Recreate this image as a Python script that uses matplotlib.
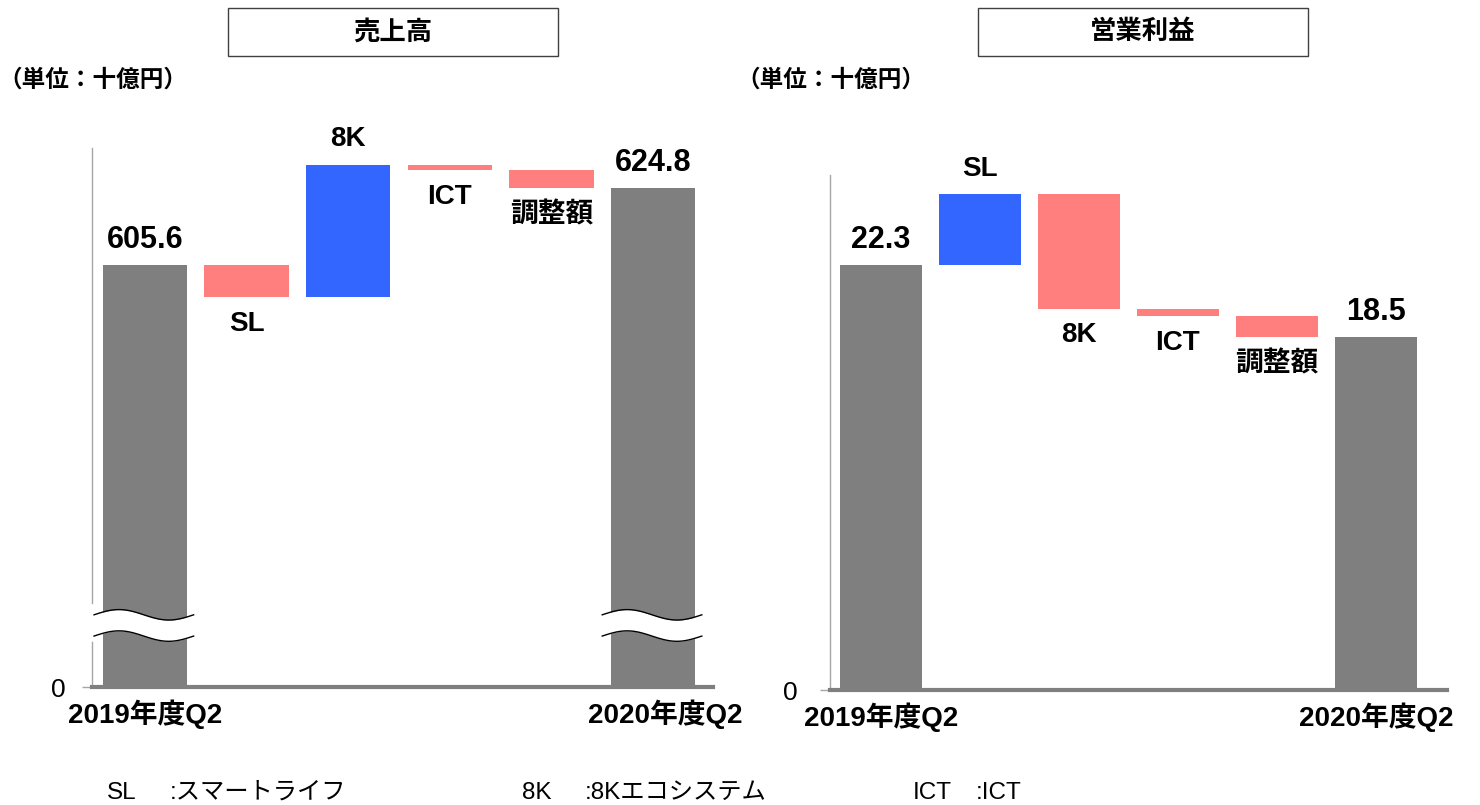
import numpy as np
import matplotlib.pyplot as plt
import matplotlib.transforms as mtransforms
from matplotlib.patches import Rectangle

plt.rcParams['font.family'] = ['Liberation Sans', 'Noto Sans CJK JP']

# data (単位: 十億円)
steps = ['SL', '8K', 'ICT', '調整額']
periods = ['2019年度Q2', '2020年度Q2']
sales_start = 605.6
sales_delta = [-8.0, 33.0, -1.2, -4.6]
sales_end = 624.8
op_start = 22.3
op_delta = [3.7, -6.0, -0.4, -1.1]
op_end = 18.5

GRAY = '#7f7f7f'
BLUE = '#3366ff'
PINK = '#ff7f7f'
AXIS = '#a6a6a6'

W, H = 1480, 805
fig = plt.figure(figsize=(W / 100, H / 100), dpi=100)


def px_axes(x0, x1, ytop, ybot):
    return fig.add_axes([x0 / W, 1 - ybot / H, (x1 - x0) / W, (ybot - ytop) / H])


def waterfall(ax, start, deltas, end, base, top, xlim):
    n = len(deltas)
    w = 0.83
    ax.bar(0, start - base, bottom=base, width=w, color=GRAY, zorder=2)
    ax.bar(n + 1, end - base, bottom=base, width=w, color=GRAY, zorder=2)
    level = start
    for i, d in enumerate(deltas):
        c = BLUE if d > 0 else PINK
        ax.bar(i + 1, d, bottom=level, width=w, color=c, zorder=2)
        new = level + d
        if d > 0:
            ax.annotate(steps[i], (i + 1, new), xytext=(0, 9), textcoords='offset points',
                        ha='center', va='bottom', fontsize=20, fontweight='bold')
        else:
            ax.annotate(steps[i], (i + 1, new), xytext=(0, -10), textcoords='offset points',
                        ha='center', va='top', fontsize=20, fontweight='bold')
        level = new
    for x, v in [(0, start), (n + 1, end)]:
        ax.annotate(f'{v:.1f}', (x, v), xytext=(0, 7), textcoords='offset points',
                    ha='center', va='bottom', fontsize=22, fontweight='bold')

    ax.set_xlim(*xlim)
    ax.set_ylim(base, top)
    ax.spines['top'].set_visible(False)
    ax.spines['right'].set_visible(False)
    ax.spines['bottom'].set_color(GRAY)
    ax.spines['bottom'].set_linewidth(3)
    ax.spines['left'].set_color(AXIS)
    ax.spines['left'].set_linewidth(1)
    ax.set_yticks([base])
    ax.set_yticklabels(['0'], fontsize=19)
    ax.tick_params(axis='y', length=7, color=AXIS, width=1, pad=12)
    ax.set_xticks([0, n + 1])
    ax.set_xticklabels(periods, fontsize=20, fontweight='bold')
    ax.tick_params(axis='x', length=0, pad=9)


# 売上高 (broken axis)
base_s = 500.4
ax1 = px_axes(92, 713, 148, 687)
waterfall(ax1, sales_start, sales_delta, sales_end, base_s, 634.8, (-0.52, 5.59))
ax1.spines['left'].set_visible(False)
ax1.plot([0, 0], [0, 0.0835], color=AXIS, lw=1, transform=ax1.transAxes, clip_on=False)
ax1.plot([0, 0], [0.156, 1], color=AXIS, lw=1, transform=ax1.transAxes, clip_on=False)
t = np.linspace(0, 1, 120)
for c in [0, 5]:
    xx = c - 0.5 + 0.98 * t
    upper = 518.4 + 1.3 * np.sin(2 * np.pi * t)
    lower = 513.1 + 1.3 * np.sin(2 * np.pi * t)
    ax1.fill_between(xx, lower, upper, color='white', zorder=3, lw=0)
    ax1.plot(xx, upper, color='black', lw=1, zorder=4)
    ax1.plot(xx, lower, color='black', lw=1, zorder=4)
# the right period label sits a little to the right in the original
lbl = ax1.get_xticklabels()[1]
lbl.set_transform(lbl.get_transform() + mtransforms.ScaledTranslation(12 / 100, 0, fig.dpi_scale_trans))

# 営業利益
ax2 = px_axes(830, 1447, 175, 690)
waterfall(ax2, op_start, op_delta, op_end, 0, 27.0, (-0.515, 5.72))
ax2.tick_params(axis='y', pad=16)

# title boxes
for x0, title in [(228, '売上高'), (978, '営業利益')]:
    fig.add_artist(Rectangle((x0 / W, 1 - 56 / H), 330 / W, 48 / H, transform=fig.transFigure,
                             fill=False, ec='#404040', lw=1))
    fig.text((x0 + 165) / W, 1 - 32 / H, title, ha='center', va='center',
             fontsize=19, fontweight='bold')

for x0 in [-2, 736]:
    fig.text(x0 / W, 1 - 80 / H, '（単位：十億円）', ha='left', va='center',
             fontsize=17, fontweight='bold')

# legend notes
notes = [(107, 'SL', ':スマートライフ'), (522, '8K', ':8Kエコシステム'), (913, 'ICT', ':ICT')]
for x0, key, desc in notes:
    fig.text(x0 / W, 1 - 793 / H, key, ha='left', va='center', fontsize=17.5)
    fig.text((x0 + 63) / W, 1 - 793 / H, desc, ha='left', va='center', fontsize=17.5)

fig.savefig('out.png', dpi=100)
